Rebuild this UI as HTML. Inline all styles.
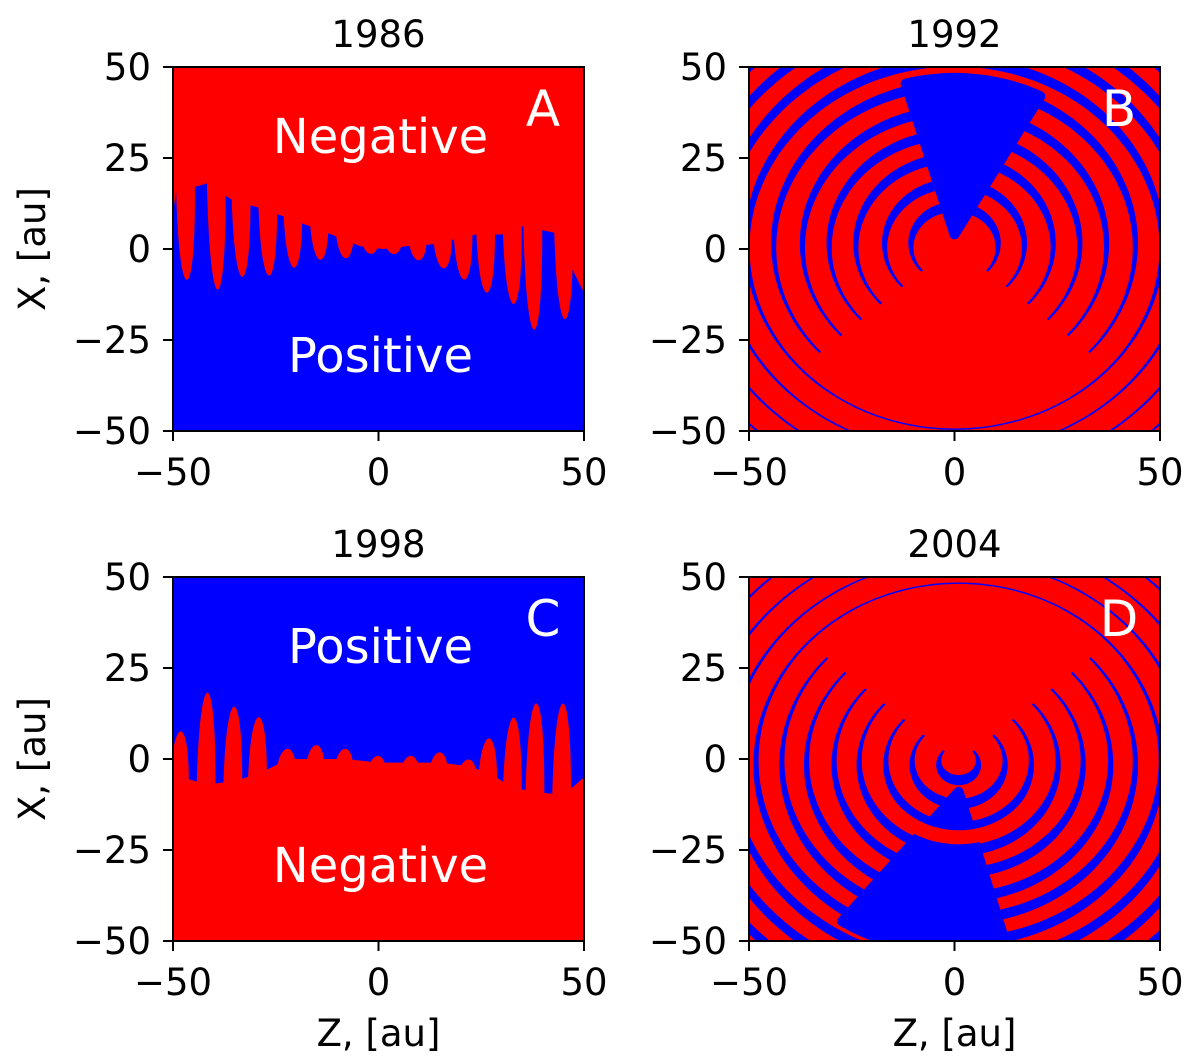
<!DOCTYPE html>
<html><head><meta charset="utf-8">
<style>
html,body{margin:0;padding:0;background:#fff;}
svg{display:block;}
text{font-family:"DejaVu Sans","Liberation Sans",sans-serif;}
</style></head>
<body>
<svg id="fig" width="1200" height="1060" viewBox="0 0 1200 1060" xmlns="http://www.w3.org/2000/svg"></svg>
<script>
// ---- data ----
const xTicks = [-50, 0, 50];
const yTicks = [50, 25, 0, -25, -50];
const titles = ["1986", "1992", "1998", "2004"];
const letters = ["A", "B", "C", "D"];
// Panel A fingers: z position, top (blue peak) and tip (lowest red)
const fingerZA   = [-46.5, -39, -33, -26.5, -20.4, -14, -7.8, -1.7, 3.9, 9.9, 16, 21, 26.5, 33, 38, 45.5];
const fingerTopA = [15.5, 18, 13.6, 11.4, 9, 6.3, 3.6, 0.8, 0, 0.8, 1.3, 2.6, 4, 4, 6.3, 4.5];
const fingerTipA = [-9.2, -12, -8.3, -7.9, -5.6, -3.3, -2.8, -1.5, -1.5, -3.3, -5.6, -8.8, -12.5, -15.7, -23, -20];
// Panel C fingers: z position, base (blue low) and tip (highest red)
const fingerZC   = [-48, -41.5, -35, -29, -22, -15, -8, 0, 8, 15, 22, 27, 33, 38.5, 45];
const fingerBaseC= [-5, -7, -6, -4, 0, 0, 0, -1, -1, -1, -2, -4, -8, -9, -10];
const fingerTipC = [8, 19, 15, 12, 3, 4, 3, 1, 1, 2, 0, 6, 12, 16, 16];
// Ring (blue gap) radii for panels B and D
const ringsB = [10.6, 17, 24, 30.5, 37, 44, 50.5, 57, 63.5, 70];
const ringsD = [4.8, 11.3, 17.7, 24.2, 30.3, 37, 43, 49.3, 55.6, 62, 68.3];
// wedge angles (deg from centre direction) and ring centres
const wedgeB = [-15, 28];
const wedgeD = [-33, 14];
const centreB = [0, 1];
const centreD = [1, -1];

const RED = "#ff0000", BLUE = "#0000ff";
const svg = document.getElementById("fig");
const NS = "http://www.w3.org/2000/svg";
function mk(tag, attrs, parent) {
  const e = document.createElementNS(NS, tag);
  for (const k in attrs) e.setAttribute(k, attrs[k]);
  (parent || svg).appendChild(e);
  return e;
}
const panels = [
  {x0:173, y0:67, name:"panel-a"},
  {x0:749, y0:67, name:"panel-b"},
  {x0:173, y0:577, name:"panel-c"},
  {x0:749, y0:577, name:"panel-d"}
];
const W = 411, H = 364;
const FS = 37;

panels.forEach((p, i) => {
  const sx = z => p.x0 + (z + 50) / 100 * W;
  const sy = X => p.y0 + (50 - X) / 100 * H;
  const g = mk("g", {});
  
  
  const clip = mk("clipPath", {id: "clip" + i}, g);
  mk("rect", {x: p.x0, y: p.y0, width: W, height: H}, clip);
  const plot = mk("g", {"clip-path": "url(#clip" + i + ")"}, g);
  
  

  function finger(z, base, tip, w, color) {
    const over = tip + (tip - base) * 0.3;
    const d = `M${sx(z - w - 0.5)},${sy(base)} C${sx(z - w)},${sy(over)} ${sx(z + w)},${sy(over)} ${sx(z + w - 0.5)},${sy(base)} Z`;
    const f = mk("path", {d: d, fill: color}, plot);
    
    
  }

  if (i === 0) {
    mk("rect", {x: p.x0, y: p.y0, width: W, height: H, fill: BLUE}, plot);
    let d = `M${sx(-50)},${sy(50)} L${sx(-50)},${sy(10)}`;
    fingerZA.forEach((z, k) => { d += ` L${sx(z - 2.8)},${sy(fingerTopA[k])}`; });
    d += ` L${sx(50)},${sy(-12)} L${sx(50)},${sy(50)} Z`;
    mk("path", {d: d, fill: RED}, plot);
    fingerZA.forEach((z, k) => finger(z, fingerTopA[k] + 4, fingerTipA[k], 2.3, RED));
  } else if (i === 2) {
    mk("rect", {x: p.x0, y: p.y0, width: W, height: H, fill: BLUE}, plot);
    let d = `M${sx(-50)},${sy(-50)} L${sx(-50)},${sy(-4)}`;
    fingerZC.forEach((z, k) => { d += ` L${sx(z)},${sy(fingerBaseC[k])}`; });
    d += ` L${sx(50)},${sy(-5)} L${sx(50)},${sy(-50)} Z`;
    mk("path", {d: d, fill: RED}, plot);
    fingerZC.forEach((z, k) => finger(z, fingerBaseC[k] - 4, fingerTipC[k], 2.3, RED));
  } else {
    const isB = i === 1;
    const c = isB ? centreB : centreD;
    const rings = isB ? ringsB : ringsD;
    const wedge = isB ? wedgeB : wedgeD;
    const dir = isB ? 1 : -1;
    mk("rect", {x: p.x0, y: p.y0, width: W, height: H, fill: RED}, plot);
    const pt = (r, a) => {
      const t = a * Math.PI / 180;
      return [+(sx(c[0] + r * Math.sin(t))).toFixed(1), +(sy(c[1] + dir * r * Math.cos(t))).toFixed(1)];
    };
    rings.forEach(r => {
      const span = r > 48 ? 180 : 132;
      const outs = [], ins = [];
      for (let a = -span; a <= span; a += 2) {
        const f = Math.pow((1 + Math.cos(a * Math.PI / 180)) / 2, 1.5);
        const w = 0.4 + 2.4 * f;
        outs.push(pt(r + w / 2, a));
        ins.push(pt(r - w / 2, a));
      }
      const poly = outs.concat(ins.reverse());
      const arc = mk("polygon", {points: poly.map(q => q.join(",")).join(" "), fill: BLUE}, plot);
      
      
    });
    const R = isB ? 46 : 52;
    let d = `M${pt(isB ? 3 : 8, 0).join(",")}`;
    for (let a = wedge[0]; a <= wedge[1]; a += 2) d += " L" + pt(R, a).join(",");
    const wd = mk("path", {d: d + " Z", fill: BLUE, stroke: BLUE, "stroke-width": 10, "stroke-linejoin": "round"}, plot);
    
    
    if (!isB) {
      let rd = "";
      for (let a = -180; a <= 180; a += 2) { const q = pt(20.5, a); rd += (rd ? " L" : "M") + q.join(","); }
      mk("path", {d: rd, fill: "none", stroke: RED, "stroke-width": 14}, plot);
    }
  }
  const fr = mk("rect", {x: p.x0, y: p.y0, width: W, height: H, fill: "none", stroke: "#000", "stroke-width": 2}, g);
  
  
  xTicks.forEach(v => {
    const x = sx(v);
    mk("line", {x1: x, x2: x, y1: p.y0 + H, y2: p.y0 + H + 10, stroke: "#000", "stroke-width": 2}, g);
    const t = mk("text", {x: x, y: p.y0 + H + 54, "font-size": FS, "text-anchor": "middle", fill: "#000"}, g);
    t.textContent = String(v).replace("-", "\u2212");
    
    
  });
  yTicks.forEach(v => {
    const y = sy(v);
    mk("line", {x1: p.x0 - 10, x2: p.x0, y1: y, y2: y, stroke: "#000", "stroke-width": 2}, g);
    const t = mk("text", {x: p.x0 - 22, y: y + 13, "font-size": FS, "text-anchor": "end", fill: "#000"}, g);
    t.textContent = String(v).replace("-", "\u2212");
    
    
  });
  const tt = mk("text", {x: p.x0 + W / 2, y: p.y0 - 20, "font-size": FS, "text-anchor": "middle", fill: "#000"}, g);
  tt.textContent = titles[i];
  
  
  const lt = mk("text", {x: p.x0 + W - 41, y: p.y0 + 59, "font-size": 50, "text-anchor": "middle", fill: "#fff"}, g);
  lt.textContent = letters[i];
  
  
  if (i === 0 || i === 2) {
    const top = i === 0 ? "Negative" : "Positive";
    const bot = i === 0 ? "Positive" : "Negative";
    const a = mk("text", {x: p.x0 + W / 2 + 2, y: p.y0 + 86, "font-size": 48, "text-anchor": "middle", fill: "#fff"}, g);
    a.textContent = top;
    
    
    const b = mk("text", {x: p.x0 + W / 2 + 2, y: p.y0 + 305, "font-size": 48, "text-anchor": "middle", fill: "#fff"}, g);
    b.textContent = bot;
    
    
    const yl = mk("text", {x: 0, y: 0, "font-size": FS, "text-anchor": "middle", fill: "#000", transform: `translate(45,${p.y0 + H / 2}) rotate(-90)`}, g);
    yl.textContent = "X, [au]";
    
    
  }
  if (i >= 2) {
    const xl = mk("text", {x: p.x0 + W / 2, y: 1046, "font-size": FS, "text-anchor": "middle", fill: "#000"}, g);
    xl.textContent = "Z, [au]";
    
    
  }
});
</script>
</body></html>
